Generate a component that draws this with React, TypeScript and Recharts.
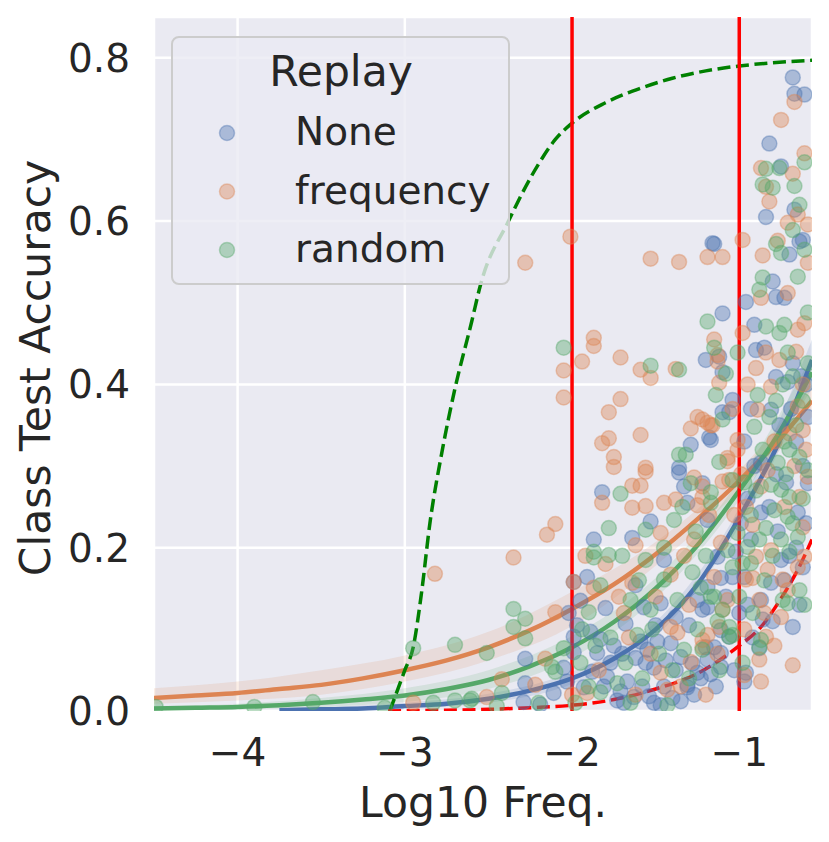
import {
  ComposedChart,
  Scatter,
  Line,
  Area,
  XAxis,
  YAxis,
  CartesianGrid,
  ReferenceLine,
  Label,
} from "recharts";

const BLUE = "#4c72b0";
const ORANGE = "#dd8452";
const GREEN = "#55a868";
const TEXT = "#262626";
const FONT = "DejaVu Sans";

const xTicks = [-4, -3, -2, -1];
const yTicks = [0, 0.2, 0.4, 0.6, 0.8];
const cutoffs = [-2, -1];

// scatter points per replay strategy: [log10 freq, class test accuracy]
const noneAcc: [number, number][] = [
  [-2.28, 0.064], [-2.28, 0.034], [-2.11, 0.022], [-2.29, 0.011], [-2.05, 0.053], [-1.99, 0.158], [-1.99, 0.091],
  [-2.03, 0.036], [-2.19, 0.008],
  [-1.15, 0.572], [-1.10, 0.487], [-1.20, 0.430], [-1.12, 0.434], [-1.10, 0.415], [-1.04, 0.381], [-1.10, 0.366],
  [-1.29, 0.326], [-1.17, 0.332], [-1.36, 0.298], [-1.36, 0.292], [-1.82, 0.268], [-1.33, 0.275], [-1.31, 0.255],
  [-1.53, 0.232], [-1.64, 0.212], [-1.87, 0.210], [-1.45, 0.185], [-1.91, 0.164], [-1.62, 0.154], [-1.80, 0.126],
  [-1.57, 0.127], [-1.47, 0.132], [-1.25, 0.136], [-1.19, 0.127], [-1.41, 0.083], [-1.20, 0.078], [-1.11, 0.071],
  [-1.59, 0.085], [-1.99, 0.072], [-1.85, 0.071], [-1.77, 0.059], [-1.56, 0.059], [-1.51, 0.053], [-1.79, 0.042],
  [-1.67, 0.036], [-1.31, 0.029], [-1.93, 0.029], [-1.63, 0.017], [-1.51, 0.010], [-1.47, 0.007], [-1.73, 0.013],
  [-1.69, 0.010], [-0.68, 0.103], [-0.97, 0.036], [-0.88, 0.077], [-0.86, 0.112], [-1.06, 0.091], [-1.11, 0.054],
  [-1.19, 0.063], [-1.31, 0.032], [-1.25, 0.047], [-0.68, 0.776], [-0.67, 0.756], [-0.61, 0.755], [-0.82, 0.695],
  [-0.75, 0.667], [-0.67, 0.614], [-0.84, 0.605], [-0.62, 0.577], [-1.16, 0.573], [-0.64, 0.575], [-0.70, 0.559],
  [-0.80, 0.526], [-0.78, 0.507], [-0.73, 0.506], [-0.96, 0.501], [-0.91, 0.473], [-0.90, 0.442], [-0.85, 0.445],
  [-0.68, 0.426], [-1.18, 0.335], [-0.81, 0.369], [-0.78, 0.409], [-0.71, 0.403], [-0.59, 0.360], [-0.87, 0.304],
  [-0.59, 0.279], [-0.65, 0.243], [-0.87, 0.243], [-0.75, 0.185], [-0.62, 0.176], [-0.97, 0.164], [-0.81, 0.157],
  [-0.87, 0.136], [-0.96, 0.047], [-1.06, 0.366], [-1.22, 0.279], [-1.19, 0.234], [-1.13, 0.189], [-1.11, 0.163],
  [-1.04, 0.164], [-1.19, 0.152], [-1.22, 0.124], [-1.11, 0.099], [-1.15, 0.078], [-0.62, 0.300], [-0.66, 0.330],
  [-0.72, 0.280], [-0.77, 0.220], [-0.60, 0.400], [-0.93, 0.210], [-0.70, 0.190], [-0.64, 0.130], [-1.00, 0.120],
  [-0.92, 0.090], [-1.97, 0.105], [-1.89, 0.097], [-1.83, 0.088], [-1.75, 0.080], [-1.70, 0.070], [-1.62, 0.065],
  [-1.55, 0.075], [-1.49, 0.085], [-1.44, 0.062], [-1.38, 0.050], [-1.35, 0.066], [-1.28, 0.058], [-1.23, 0.040],
  [-1.17, 0.045], [-1.14, 0.030], [-1.88, 0.048], [-1.81, 0.030], [-1.71, 0.024], [-1.58, 0.030], [-1.54, 0.018],
  [-1.45, 0.030], [-1.40, 0.016], [-1.35, 0.012], [-1.27, 0.020], [-2.02, 0.120], [-1.95, 0.135], [-1.68, 0.107],
  [-1.50, 0.105], [-1.38, 0.115], [-1.30, 0.105], [-1.03, 0.050], [-1.08, 0.140], [-1.02, 0.195], [-0.99, 0.230],
  [-0.95, 0.260], [-0.91, 0.300], [-0.97, 0.330], [-0.93, 0.370], [-0.76, 0.350], [-0.63, 0.410], [-0.69, 0.370],
  [-0.82, 0.250], [-0.78, 0.290], [-0.73, 0.160], [-0.80, 0.110], [-0.66, 0.200], [-0.60, 0.230], [-0.95, 0.130],
];

const freqAcc: [number, number][] = [
  [-2.01, 0.581], [-2.28, 0.549], [-2.05, 0.417], [-2.05, 0.384], [-2.10, 0.229], [-2.15, 0.216], [-2.35, 0.188],
  [-2.82, 0.168], [-2.10, 0.121], [-2.16, 0.064], [-2.42, 0.039], [-2.22, 0.032], [-2.51, 0.017], [-2.95, 0.010],
  [-1.19, 0.556], [-1.10, 0.556], [-1.53, 0.554], [-1.36, 0.550], [-1.15, 0.455], [-1.87, 0.457], [-1.87, 0.447],
  [-1.94, 0.428], [-1.71, 0.433], [-1.59, 0.418], [-1.53, 0.408], [-1.38, 0.419], [-1.13, 0.428], [-1.12, 0.402],
  [-1.04, 0.370], [-1.71, 0.382], [-1.78, 0.366], [-1.25, 0.360], [-1.22, 0.357], [-1.17, 0.350], [-1.29, 0.346],
  [-1.59, 0.338], [-1.78, 0.334], [-1.82, 0.328], [-1.75, 0.311], [-1.07, 0.306], [-1.56, 0.298], [-1.75, 0.299],
  [-1.56, 0.293], [-1.27, 0.286], [-1.64, 0.276], [-1.59, 0.276], [-1.82, 0.255], [-1.22, 0.275], [-1.10, 0.281],
  [-1.64, 0.249], [-1.56, 0.251], [-1.45, 0.255], [-1.38, 0.259], [-1.25, 0.252], [-1.47, 0.218], [-1.62, 0.203],
  [-1.99, 0.158], [-1.87, 0.151], [-1.64, 0.157], [-1.41, 0.167], [-1.72, 0.140], [-1.69, 0.120], [-1.12, 0.103],
  [-1.41, 0.103], [-1.37, 0.096], [-1.19, 0.093], [-1.47, 0.047], [-1.43, 0.026], [-1.91, 0.022], [-0.68, 0.056],
  [-0.87, 0.036], [-0.97, 0.044], [-0.88, 0.063], [-0.84, 0.091], [-0.75, 0.115], [-1.22, 0.078], [-0.67, 0.746],
  [-0.75, 0.724], [-0.61, 0.683], [-0.87, 0.665], [-0.68, 0.658], [-0.84, 0.642], [-0.82, 0.624], [-0.65, 0.608],
  [-0.71, 0.598], [-0.59, 0.596], [-0.98, 0.577], [-0.77, 0.576], [-0.86, 0.558], [-0.59, 0.549], [-0.87, 0.506],
  [-0.71, 0.512], [-0.98, 0.463], [-0.65, 0.467], [-0.61, 0.475], [-1.13, 0.436], [-0.84, 0.439], [-1.07, 0.310],
  [-1.01, 0.332], [-1.01, 0.320], [-0.89, 0.369], [-0.81, 0.397], [-0.65, 0.373], [-0.62, 0.344], [-0.59, 0.287],
  [-0.83, 0.295], [-0.87, 0.275], [-0.64, 0.262], [-0.62, 0.225], [-0.92, 0.228], [-0.81, 0.197], [-0.90, 0.189],
  [-0.61, 0.189], [-0.65, 0.176], [-0.83, 0.173], [-0.74, 0.161], [-0.92, 0.163], [-0.71, 0.148], [-0.88, 0.136],
  [-1.19, 0.353], [-1.16, 0.350], [-1.22, 0.262], [-1.06, 0.283], [-1.11, 0.206], [-0.96, 0.161], [-1.15, 0.164],
  [-1.07, 0.136], [-1.10, 0.124], [-1.22, 0.087], [-0.95, 0.400], [-0.90, 0.420], [-0.76, 0.430], [-0.70, 0.340],
  [-0.73, 0.250], [-0.79, 0.330], [-0.67, 0.300], [-0.60, 0.320], [-0.96, 0.250], [-0.99, 0.290], [-1.03, 0.240],
  [-0.85, 0.120], [-0.79, 0.080], [-0.97, 0.100], [-1.13, 0.070], [-1.29, 0.060], [-1.35, 0.030], [-1.53, 0.070],
  [-1.66, 0.090], [-1.80, 0.180], [-1.92, 0.190], [-1.33, 0.190], [-1.27, 0.210], [-1.18, 0.240], [-1.30, 0.130],
  [-1.50, 0.140], [-1.84, 0.050], [-2.00, 0.020], [-1.62, 0.020], [-1.20, 0.020], [-0.62, 0.400], [-0.66, 0.440],
];

const randomAcc: [number, number][] = [
  [-2.05, 0.445], [-2.35, 0.125], [-2.28, 0.113], [-2.35, 0.103], [-2.28, 0.089], [-2.95, 0.077], [-2.70, 0.081],
  [-2.51, 0.071], [-2.05, 0.077], [-2.10, 0.048], [-2.12, 0.054], [-2.42, 0.022], [-2.70, 0.013], [-2.61, 0.013],
  [-2.83, 0.010], [-3.55, 0.011], [-3.90, 0.005], [-4.49, 0.005], [-3.12, 0.004], [-2.60, 0.015], [-2.45, 0.006],
  [-2.20, 0.010], [-1.19, 0.477], [-1.15, 0.445], [-1.53, 0.423], [-1.36, 0.418], [-1.08, 0.413], [-1.14, 0.387],
  [-1.10, 0.357], [-1.36, 0.314], [-1.32, 0.314], [-1.12, 0.305], [-1.29, 0.279], [-1.71, 0.266], [-1.17, 0.268],
  [-1.04, 0.283], [-1.39, 0.234], [-1.56, 0.222], [-1.78, 0.224], [-1.87, 0.195], [-1.87, 0.188], [-1.78, 0.191],
  [-1.56, 0.185], [-1.83, 0.154], [-1.45, 0.161], [-1.28, 0.170], [-1.23, 0.151], [-1.65, 0.136], [-1.90, 0.121],
  [-1.53, 0.124], [-1.37, 0.136], [-1.15, 0.140], [-1.10, 0.124], [-1.33, 0.075], [-1.04, 0.093], [-1.61, 0.093],
  [-1.95, 0.059], [-1.68, 0.059], [-1.40, 0.050], [-1.73, 0.034], [-1.83, 0.023], [-1.43, 0.007], [-0.61, 0.130],
  [-0.71, 0.132], [-1.06, 0.103], [-0.98, 0.059], [-0.61, 0.672], [-0.84, 0.664], [-0.76, 0.665], [-0.86, 0.645],
  [-0.80, 0.641], [-0.67, 0.643], [-0.64, 0.620], [-0.68, 0.589], [-0.78, 0.572], [-0.75, 0.561], [-0.61, 0.565],
  [-0.65, 0.532], [-0.86, 0.531], [-0.88, 0.516], [-0.76, 0.463], [-0.73, 0.473], [-0.59, 0.488], [-1.01, 0.439],
  [-0.71, 0.439], [-0.59, 0.426], [-0.84, 0.471], [-0.89, 0.387], [-0.91, 0.348], [-0.64, 0.311], [-0.70, 0.320],
  [-0.59, 0.295], [-0.77, 0.304], [-0.81, 0.277], [-0.75, 0.271], [-0.70, 0.262], [-0.79, 0.246], [-0.71, 0.238],
  [-0.84, 0.224], [-0.88, 0.210], [-0.75, 0.210], [-0.65, 0.213], [-0.95, 0.201], [-0.70, 0.195], [-1.04, 0.176],
  [-0.93, 0.181], [-0.64, 0.148], [-0.74, 0.136], [-0.87, 0.087], [-0.88, 0.078], [-1.17, 0.255], [-1.01, 0.218],
  [-1.07, 0.197], [-0.98, 0.181], [-1.17, 0.140], [-1.06, 0.091], [-1.22, 0.075], [-0.97, 0.280], [-0.93, 0.240],
  [-0.90, 0.270], [-0.86, 0.320], [-0.82, 0.360], [-0.78, 0.380], [-0.74, 0.400], [-0.68, 0.410], [-0.62, 0.380],
  [-0.66, 0.350], [-0.73, 0.330], [-0.80, 0.190], [-0.85, 0.160], [-0.68, 0.230], [-0.62, 0.260], [-0.72, 0.290],
  [-0.92, 0.120], [-1.00, 0.140], [-1.13, 0.110], [-1.20, 0.190], [-1.26, 0.220], [-1.34, 0.250], [-1.45, 0.200],
  [-1.52, 0.100], [-1.60, 0.160], [-1.70, 0.190], [-1.94, 0.100], [-1.86, 0.080], [-1.77, 0.090], [-1.48, 0.070],
  [-1.25, 0.100], [-1.58, 0.040], [-1.90, 0.030], [-1.98, 0.010], [-1.65, 0.010], [-1.30, 0.040], [-1.12, 0.050],
];

// fitted curves: [x, y]
const noneFit: [number, number][] = [
  [-3.75, 0.001], [-3.5, 0.002], [-3.25, 0.003], [-3.0, 0.006], [-2.75, 0.009], [-2.5, 0.015], [-2.25, 0.025],
  [-2.0, 0.04], [-1.75, 0.064], [-1.5, 0.1], [-1.25, 0.155], [-1.0, 0.237], [-0.75, 0.335], [-0.565, 0.43],
];
const freqFit: [number, number][] = [
  [-4.5, 0.016], [-4.25, 0.019], [-4.0, 0.022], [-3.75, 0.027], [-3.5, 0.032], [-3.25, 0.04], [-3.0, 0.05],
  [-2.75, 0.062], [-2.5, 0.078], [-2.25, 0.099], [-2.0, 0.125], [-1.75, 0.155], [-1.5, 0.192], [-1.25, 0.235],
  [-1.0, 0.282], [-0.75, 0.335], [-0.565, 0.38],
];
const randomFit: [number, number][] = [
  [-4.5, 0.003], [-4.25, 0.004], [-4.0, 0.005], [-3.75, 0.007], [-3.5, 0.01], [-3.25, 0.014], [-3.0, 0.019],
  [-2.75, 0.027], [-2.5, 0.038], [-2.25, 0.055], [-2.0, 0.078], [-1.75, 0.109], [-1.5, 0.15], [-1.25, 0.203],
  [-1.0, 0.27], [-0.75, 0.345], [-0.565, 0.415],
];

// confidence bands: [x, low, high]
const noneBand: [number, number, number][] = [
  [-3.75, 0.0, 0.003], [-3.0, 0.003, 0.01], [-2.5, 0.01, 0.021], [-2.0, 0.033, 0.048], [-1.5, 0.091, 0.109],
  [-1.0, 0.226, 0.249], [-0.565, 0.405, 0.455],
];
const freqBand: [number, number, number][] = [
  [-4.5, 0.009, 0.028], [-4.0, 0.013, 0.036], [-3.5, 0.02, 0.05], [-3.0, 0.036, 0.068], [-2.5, 0.062, 0.097],
  [-2.0, 0.104, 0.146], [-1.5, 0.178, 0.207], [-1.0, 0.27, 0.295], [-0.565, 0.36, 0.4],
];
const randomBand: [number, number, number][] = [
  [-4.5, 0.001, 0.006], [-4.0, 0.002, 0.009], [-3.5, 0.005, 0.016], [-3.0, 0.011, 0.028], [-2.5, 0.027, 0.05],
  [-2.0, 0.065, 0.092], [-1.5, 0.138, 0.163], [-1.0, 0.258, 0.283], [-0.565, 0.395, 0.435],
];

// reference curves (dashed)
const upperRef: [number, number][] = [
  [-3.09, 0.0], [-3.0, 0.05], [-2.95, 0.078], [-2.9, 0.145], [-2.85, 0.23], [-2.78, 0.315], [-2.7, 0.395],
  [-2.6, 0.477], [-2.55, 0.52], [-2.38, 0.6], [-2.2, 0.67], [-2.1, 0.7], [-2.0, 0.72], [-1.8, 0.745],
  [-1.6, 0.762], [-1.4, 0.775], [-1.2, 0.784], [-1.0, 0.79], [-0.8, 0.794], [-0.565, 0.797],
];
const lowerRef: [number, number][] = [
  [-3.1, 0.0], [-2.75, 0.001], [-2.5, 0.002], [-2.25, 0.004], [-2.0, 0.007], [-1.75, 0.014], [-1.5, 0.027],
  [-1.25, 0.046], [-1.0, 0.08], [-0.87, 0.103], [-0.75, 0.138], [-0.65, 0.173], [-0.565, 0.21],
];

const legendItems = [
  { label: "None", color: BLUE },
  { label: "frequency", color: ORANGE },
  { label: "random", color: GREEN },
];

const toXY = (arr: [number, number][]) => arr.map(([x, y]) => ({ x, y }));
const toBand = (arr: [number, number, number][]) => arr.map(([x, lo, hi]) => ({ x, lo, hi }));

const dot = (color: string) => (props: any) => (
  <circle
    cx={props.cx}
    cy={props.cy}
    r={7.5}
    fill={color}
    fillOpacity={0.4}
    stroke={color}
    strokeOpacity={0.4}
    strokeWidth={1.5}
  />
);

const fmtX = (v: number) => String(v).replace("-", "\u2212");

const XTitle = () => (
  <text x={475} y={809} textAnchor="middle" fontSize={42.5} fontFamily={FONT} fill={TEXT}>
    Log10 Freq.
  </text>
);

const YTitle = () => (
  <text
    x={42}
    y={360}
    transform="rotate(-90, 42, 360)"
    textAnchor="middle"
    fontSize={42.5}
    fontFamily={FONT}
    fill={TEXT}
  >
    Class Test Accuracy
  </text>
);

const LegendBox = () => (
  <svg
    width={340}
    height={250}
    style={{ position: "absolute", left: 163, top: 28, pointerEvents: "none" }}
  >
    <rect x={1} y={1} width={337} height={247} rx={7} fill="#eaeaf2" fillOpacity={0.8} stroke="#cccccc" strokeWidth={2} />
    <text x={170} y={50} textAnchor="middle" fontSize={42.5} fontFamily={FONT} fill={TEXT}>
      Replay
    </text>
    {legendItems.map((it, i) => (
      <g key={it.label}>
        <circle
          cx={56}
          cy={97 + i * 58.5}
          r={7.5}
          fill={it.color}
          fillOpacity={0.4}
          stroke={it.color}
          strokeOpacity={0.4}
          strokeWidth={1.5}
        />
        <text x={124} y={109 + i * 58.5} fontSize={39} fontFamily={FONT} fill={TEXT}>
          {it.label}
        </text>
      </g>
    ))}
  </svg>
);

export default function App() {
  return (
    <div style={{ position: "relative", width: 821, height: 834, fontFamily: FONT }}>
      <ComposedChart width={821} height={834} margin={{ top: 9, right: 17, left: 0, bottom: 0 }}>
        <CartesianGrid fill="#eaeaf2" stroke="#ffffff" strokeWidth={2.5} />
        <XAxis
          type="number"
          dataKey="x"
          domain={[-4.5, -0.565]}
          allowDataOverflow
          ticks={xTicks}
          tickFormatter={fmtX}
          axisLine={false}
          tickLine={false}
          tickSize={0}
          tickMargin={27}
          height={131}
          tick={{ fill: TEXT, fontSize: 39, fontFamily: FONT }}
        >
          <Label content={<XTitle />} />
        </XAxis>
        <YAxis
          type="number"
          domain={[0, 0.85]}
          allowDataOverflow
          ticks={yTicks}
          tickFormatter={(v: number) => v.toFixed(1)}
          axisLine={false}
          tickLine={false}
          tickSize={0}
          tickMargin={24}
          width={146}
          tick={{ fill: TEXT, fontSize: 39, fontFamily: FONT }}
        >
          <Label content={<YTitle />} />
        </YAxis>

        <Scatter data={toXY(noneAcc)} dataKey="y" shape={dot(BLUE)} isAnimationActive={false} />
        <Scatter data={toXY(freqAcc)} dataKey="y" shape={dot(ORANGE)} isAnimationActive={false} />
        <Scatter data={toXY(randomAcc)} dataKey="y" shape={dot(GREEN)} isAnimationActive={false} />

        <Area data={toBand(noneBand)} dataKey={(d: any) => [d.lo, d.hi]} type="monotone" stroke="none" fill={BLUE} fillOpacity={0.15} isAnimationActive={false} activeDot={false} />
        <Area data={toBand(freqBand)} dataKey={(d: any) => [d.lo, d.hi]} type="monotone" stroke="none" fill={ORANGE} fillOpacity={0.15} isAnimationActive={false} activeDot={false} />
        <Area data={toBand(randomBand)} dataKey={(d: any) => [d.lo, d.hi]} type="monotone" stroke="none" fill={GREEN} fillOpacity={0.15} isAnimationActive={false} activeDot={false} />

        <Line data={toXY(noneFit)} dataKey="y" type="monotone" stroke={BLUE} strokeWidth={4.5} dot={false} activeDot={false} isAnimationActive={false} />
        <Line data={toXY(freqFit)} dataKey="y" type="monotone" stroke={ORANGE} strokeWidth={4.5} dot={false} activeDot={false} isAnimationActive={false} />
        <Line data={toXY(randomFit)} dataKey="y" type="monotone" stroke={GREEN} strokeWidth={4.5} dot={false} activeDot={false} isAnimationActive={false} />

        <Line data={toXY(upperRef)} dataKey="y" type="monotone" stroke="#008000" strokeWidth={3.5} strokeDasharray="13 5.6" dot={false} activeDot={false} isAnimationActive={false} />
        <Line data={toXY(lowerRef)} dataKey="y" type="monotone" stroke="#ff0000" strokeWidth={3.5} strokeDasharray="13 5.6" dot={false} activeDot={false} isAnimationActive={false} />

        {cutoffs.map((c) => (
          <ReferenceLine key={c} x={c} stroke="#ff0000" strokeWidth={3.5} />
        ))}
      </ComposedChart>
      <LegendBox />
    </div>
  );
}
